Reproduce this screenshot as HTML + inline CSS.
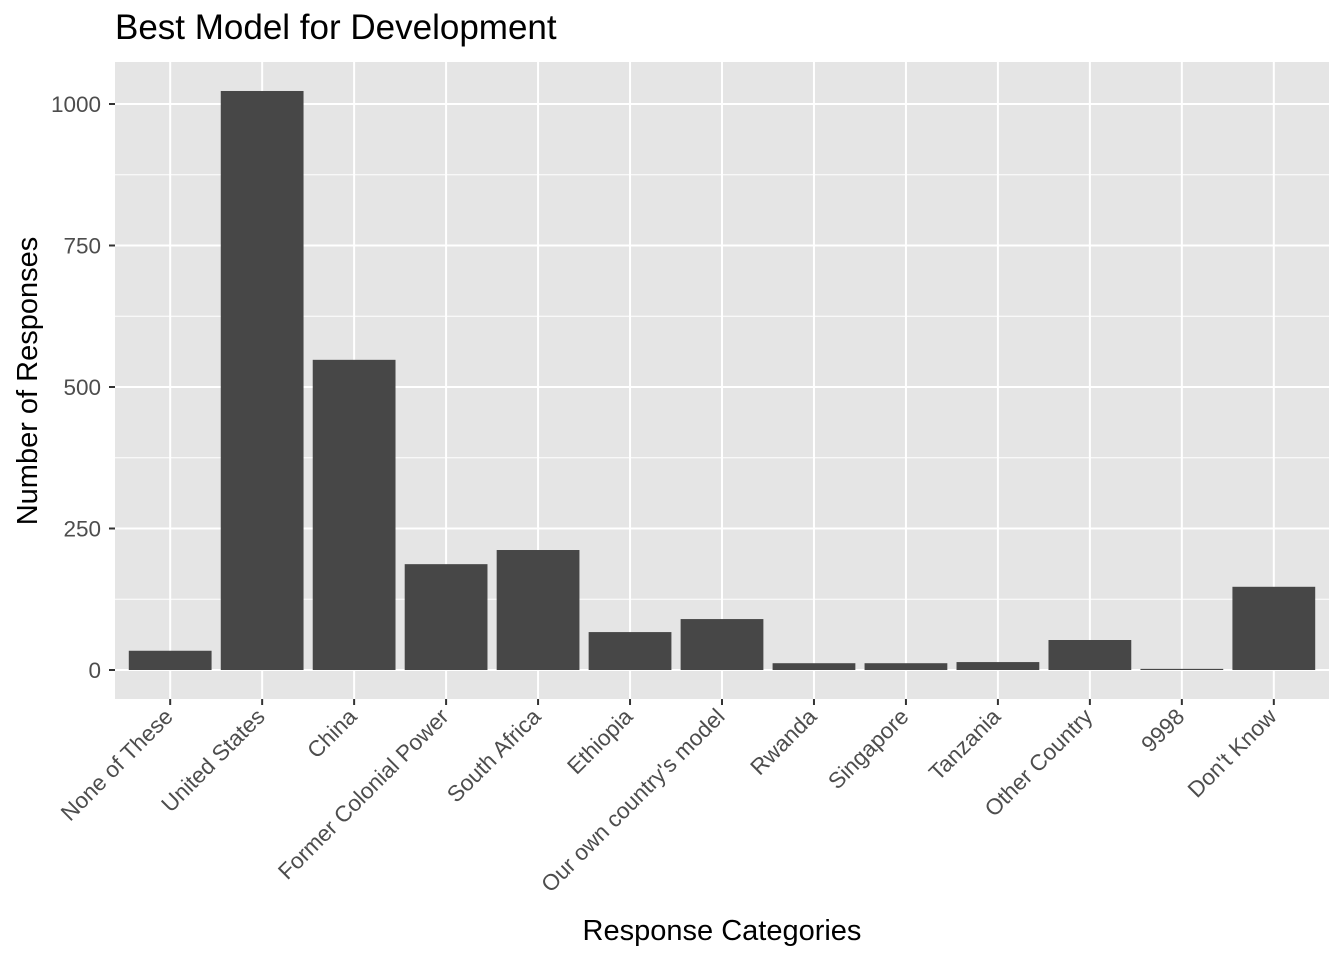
<!DOCTYPE html>
<html><head><meta charset="utf-8"><style>
body{margin:0;background:#fff;}
svg{font-family:"Liberation Sans",Arial,sans-serif;}
</style></head><body>
<svg id="chart" width="1344" height="960">
<text x="115" y="39" font-size="35" fill="#000">Best Model for Development</text>
<rect x="115" y="62" width="1214" height="637" fill="#e5e5e5"/>
<g id="grid"></g><g id="bars"></g><g id="axes"></g>
<text x="722" y="940" font-size="29" text-anchor="middle" fill="#000">Response Categories</text>
<text transform="translate(37,381) rotate(-90)" font-size="29" text-anchor="middle" fill="#000">Number of Responses</text>
</svg>
<script>
const categories=["None of These","United States","China","Former Colonial Power","South Africa","Ethiopia","Our own country's model","Rwanda","Singapore","Tanzania","Other Country","9998","Don't Know"];
const values=[34,1023,548,187,212,67,90,12,12,14,53,2,147];
const yTicks=[0,250,500,750,1000];
const yMinor=[125,375,625,875];
const NS="http://www.w3.org/2000/svg";
const px0=115,px1=1329,py0=699,py1=62;
const yScale=v=>670-v*0.566;
const n=categories.length;
const step=(px1-px0)/(n+0.2);
const xScale=i=>px0+step*(0.6+i);
function mk(tag,attrs,parent){const e=document.createElementNS(NS,tag);for(const k in attrs)e.setAttribute(k,attrs[k]);document.getElementById(parent).appendChild(e);return e;}
yMinor.forEach(v=>{const l=mk('line',{x1:px0,x2:px1,y1:yScale(v),y2:yScale(v),stroke:'#fff','stroke-width':1},'grid');

});
yTicks.forEach(v=>{const y=yScale(v);
const l=mk('line',{x1:px0,x2:px1,y1:y,y2:y,stroke:'#fff','stroke-width':2},'grid');


const t=mk('line',{x1:px0-6,x2:px0,y1:y,y2:y,stroke:'#333','stroke-width':2},'axes');


const tx=mk('text',{x:px0-14,y:y+8,'font-size':22.5,'text-anchor':'end',fill:'#4d4d4d'},'axes');tx.textContent=v;

});
categories.forEach((c,i)=>{const x=xScale(i);
const g=mk('line',{x1:x,x2:x,y1:py1,y2:py0,stroke:'#fff','stroke-width':2},'grid');


const w=step*0.9;
const b=mk('rect',{x:x-w/2,y:yScale(values[i]),width:w,height:yScale(0)-yScale(values[i]),fill:'#474747'},'bars');


const t=mk('line',{x1:x,x2:x,y1:py0,y2:py0+6,stroke:'#333','stroke-width':2},'axes');


const tx=mk('text',{transform:`translate(${x+4},${py0+19}) rotate(-45)`,'font-size':22.5,'text-anchor':'end',fill:'#4d4d4d'},'axes');tx.textContent=c;

});
</script>
</body></html>
